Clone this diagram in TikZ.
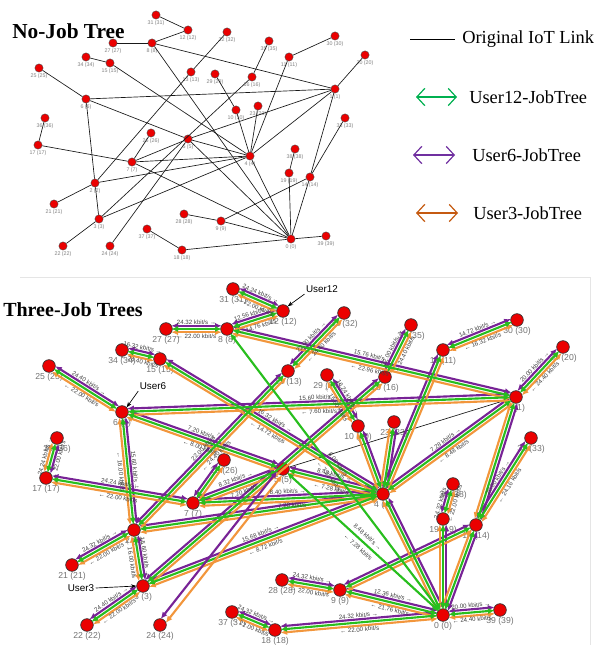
\documentclass[tikz,border=0pt]{standalone}
\usepackage{fontspec}
\setmainfont{Liberation Serif}
\setsansfont{Liberation Sans}
\usetikzlibrary{calc,arrows.meta}
\definecolor{ugreen}{RGB}{40,190,30}
\definecolor{upurple}{RGB}{120,35,150}
\definecolor{uorange}{RGB}{242,150,60}
\definecolor{lgreen}{RGB}{0,176,80}
\definecolor{lpurple}{RGB}{112,48,160}
\definecolor{lorange}{RGB}{197,90,17}
\definecolor{dotred}{RGB}{235,0,0}
\newcommand\commonlinks{31/12, 8/12, 27/8, 8/1, 34/15, 15/4, 25/6, 6/1, 6/5, 6/2, 36/17, 17/7, 7/26, 7/5, 7/4, 13/32, 2/13, 29/10, 16/35, 3/16, 11/30, 4/11, 1/20, 4/1, 1/14, 14/33, 21/2, 2/3, 2/4, 22/3, 3/4, 23/4, 10/4, 5/4, 4/0, 19/38, 19/0, 14/0, 9/14, 28/9, 9/0, 37/18, 18/0, 0/39}
\begin{document}
\begin{tikzpicture}[x=0.75pt,y=-0.75pt,
  topdot/.style={circle,draw=black!70,fill=dotred,inner sep=0pt,minimum size=6.2pt,line width=0.3pt},
  botdot/.style={circle,draw=black!80,fill=dotred,inner sep=0pt,minimum size=9.5pt,line width=0.5pt},
  toplab/.style={font=\sffamily\fontsize{4}{4}\selectfont,text=black!50,inner sep=0.5pt},
  botlab/.style={font=\sffamily\fontsize{6.5}{6.5}\selectfont,text=black!55,inner sep=0.5pt},
  iot/.style={draw=black!90,line width=0.5pt},
  jobline/.style={{Latex[length=5pt,width=4.5pt]}-{Latex[length=5pt,width=4.5pt]},line width=1.6pt,shorten <=4pt,shorten >=4pt},
  rate/.style={font=\sffamily\fontsize{4.6}{4.6}\selectfont,text=black!75,inner sep=0.6pt,sloped,midway},
  legarrow/.style={line width=0.9pt,{Straight Barb[length=6pt,width=13pt]}-{Straight Barb[length=6pt,width=13pt]}},
  legtext/.style={font=\fontsize{13.8}{14}\selectfont,anchor=west,inner sep=0pt},
  title/.style={font=\bfseries\fontsize{16}{18}\selectfont,anchor=west,inner sep=0pt},
  user/.style={font=\sffamily\fontsize{7.4}{8}\selectfont,inner sep=1pt},
  pointer/.style={-{Stealth[length=4pt,width=3pt]},line width=0.5pt}]
\useasboundingbox (0,0) rectangle (597,645);

% no-job tree
\node[title] (notitle) at (12,31) {No-Job Tree};
\foreach \n/\x/\y in {0/291/239, 1/335/89, 2/95/183, 3/99/219, 4/250/156, 5/188/139, 6/86/99, 7/132/162, 8/152/43, 9/221/221, 10/236/110, 11/289/57, 12/188/30, 13/191/72, 14/310/177, 15/110/63, 16/252/77, 17/38/145, 18/182/250, 19/289/173, 20/365/55, 21/54/204, 22/63/246, 23/258/106, 24/110/246, 25/39/68, 26/151/133, 27/113/43, 28/184/214, 29/215/74, 30/335/36, 31/156/15, 32/227/32, 33/345/118, 34/86/57, 35/269/41, 36/45/118, 37/147/229, 38/295/149, 39/326/236}
  \node[topdot,label={[toplab]below:{\n\ (\n)}}] (t\n) at (\x,\y) {};
\foreach \p/\q in {31/12, 12/8, 27/8, 8/1, 8/0, 34/15, 15/4, 25/6, 6/1, 6/5, 6/2, 36/17, 17/7, 7/26, 7/5, 7/4, 7/0, 13/32, 13/2, 29/10, 16/35, 16/3, 11/30, 11/4, 20/1, 1/5, 1/4, 1/14, 33/14, 21/2, 2/3, 2/4, 22/3, 3/4, 24/5, 23/4, 10/4, 5/4, 5/0, 4/0, 19/38, 19/0, 14/0, 9/14, 28/9, 9/0, 37/18, 18/0, 0/39}
  \draw[iot] (t\p) -- (t\q);

% legend
\coordinate (iotA) at (410,39); \coordinate (iotB) at (455,39);
\draw[line width=0.6pt] (iotA) -- (iotB);
\node[legtext] (iottxt) at (462,39) {Original IoT Link};
\coordinate (gA) at (416,97); \coordinate (gB) at (457,97);
\draw[legarrow,lgreen] (gA) -- (gB);
\node[legtext] (gtxt) at (469,97) {User12-JobTree};
\coordinate (pA) at (413,155); \coordinate (pB) at (455,155);
\draw[legarrow,lpurple] (pA) -- (pB);
\node[legtext] (ptxt) at (472,155) {User6-JobTree};
\coordinate (oA) at (416,213); \coordinate (oB) at (458,213);
\draw[legarrow,lorange] (oA) -- (oB);
\node[legtext] (otxt) at (473,213) {User3-JobTree};

% three-job trees
\draw[black!10] (20,277) -- (590,277) -- (590,645);
\node[title,font=\bfseries\fontsize{15}{17}\selectfont] (threetitle) at (3,310) {Three-Job Trees};
\foreach \n/\x/\y in {0/443/615, 1/516/397, 2/134/530, 3/143/586, 4/383/494, 5/283/469, 6/122/412, 7/193/503, 8/227/329, 9/340/590, 10/358/426, 11/443/350, 12/283/311, 13/288/371, 14/476/525, 15/160/359, 16/385/377, 17/46/478, 18/275/630, 19/443/519, 20/563/347, 21/72/565, 22/87/625, 23/394/422, 24/160/625, 25/49/366, 26/224/460, 27/166/329, 28/282/580, 29/327/375, 30/517/320, 31/233/289, 32/344/313, 33/531/438, 34/122/350, 35/411/325, 36/57/438, 37/232/612, 38/453/484, 39/500/610}
  \node[botdot,label={[botlab]below:{\n\ (\n)}}] (b\n) at (\x,\y) {};
\draw[iot] (b1) -- (b5);
\foreach \c/\d in {upurple/2.4pt, uorange/-2.4pt, ugreen/0pt}
  \foreach \p/\q in \commonlinks
    \draw[jobline,\c] ($(b\p)!\d!90:(b\q)$) -- ($(b\q)!\d!-90:(b\p)$);
\foreach \c/\d in {upurple/2.4pt, uorange/-2.4pt}
  \draw[jobline,\c] ($(b24)!\d!90:(b5)$) -- ($(b5)!\d!-90:(b24)$);
\foreach \p/\q in {8/0, 5/0}
  \draw[jobline,ugreen] (b\p.center) -- (b\q.center);
\foreach \p/\q/\fw/\bw in {31/12/24.24/22.00, 27/8/24.32/22.00, 8/12/12.56/14.76, 34/15/16.32/24.40, 15/4/16.32/14.72, 25/6/24.40/22.00, 6/1/15.60/7.60, 6/5/7.20/8.00, 6/2/15.60/16.00, 17/36/24.24/22.00, 17/7/24.24/22.00, 7/5/8.32/7.20, 7/4/8.40/7.28, 5/4/8.48/7.28, 13/32/22.00/24.40, 8/1/15.76/22.96, 11/30/14.72/16.32, 1/20/20.00/24.40, 4/1/7.28/8.48, 14/33/20.00/24.16, 21/2/24.32/22.00, 22/3/24.40/22.00, 2/3/15.60/16.00, 28/9/24.32/22.00, 9/0/12.36/21.76, 37/18/24.32/22.00, 18/0/24.32/22.00, 0/39/20.00/24.40, 3/4/15.68/8.72, 8/0/8.08/7.28, 5/0/8.48/7.28, 16/35/22.00/24.40, 29/10/16.24/15.60, 2/13/22.00/24.40, 19/38/24.32/22.00}
  \path (b\p) -- (b\q) node[rate,above=2.8pt] {\fw\ kbit/s →} node[rate,below=2.8pt] {← \bw\ kbit/s};

\node[user] (u12) at (322,289) {User12};
\draw[pointer] (u12.south west) -- (b12.north east);
\node[user] (u6) at (153,386) {User6};
\draw[pointer] (u6.south west) -- (b6.north east);
\node[user] (u3) at (81,588) {User3};
\draw[pointer] (u3.east) -- (b3.west);
\end{tikzpicture}
\end{document}
